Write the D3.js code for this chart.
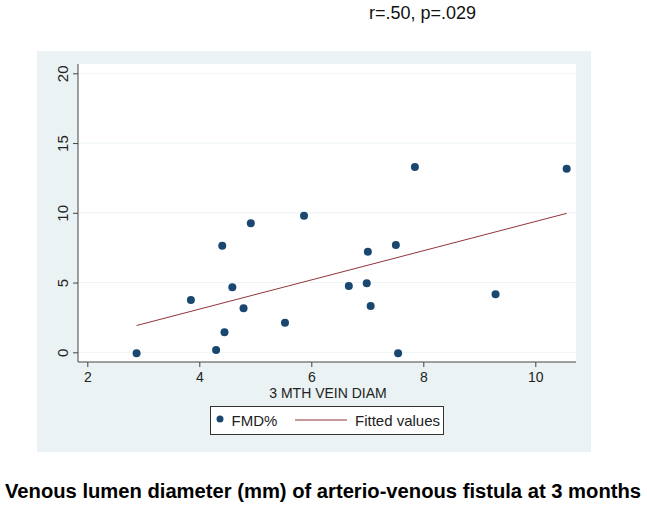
<!DOCTYPE html>
<html>
<head>
<meta charset="utf-8">
<script src="https://cdn.jsdelivr.net/npm/d3@7"></script>
<style>
  body { margin: 0; background: #fff; }
  text { font-family: "Liberation Sans", Arial, sans-serif; }
</style>
</head>
<body>
<div id="chart"></div>
<script>
// 3ヶ月時点の静脈径 (mm) と FMD%
const veinDiam = [2.88, 3.85, 4.30, 4.41, 4.45, 4.59, 4.79, 4.92, 5.53, 5.87,
  6.67, 6.99, 7.01, 7.06, 7.51, 7.55, 7.85, 9.29, 10.56];
const fmdPct = [-0.06, 3.75, 0.16, 7.64, 1.43, 4.66, 3.15, 9.25, 2.12, 9.79,
  4.75, 4.95, 7.21, 3.32, 7.69, -0.06, 13.28, 4.16, 13.16];
// 回帰直線の両端
const fitX = [2.88, 10.56];
const fitY = [1.92, 9.96];
const xTicks = [2, 4, 6, 8, 10];
const yTicks = [0, 5, 10, 15, 20];

const width = 647, height = 509;
const svg = d3.select("#chart").append("svg").attr("width", width).attr("height", height);

// 外側の背景
svg.append("rect").attr("x", 37).attr("y", 51).attr("width", 554).attr("height", 401).attr("fill", "#eaf2f3");
// プロット領域
svg.append("rect").attr("x", 78).attr("y", 64).attr("width", 498).attr("height", 298).attr("fill", "#fff");

let x = d3.scaleLinear().domain([2, 10]).range([87.3, 535.3]);
let y = d3.scaleLinear().domain([0, 20]).range([352.3, 73.3]);

// グリッド線
svg.append("g").selectAll("line").data(yTicks).enter().append("line")
  .attr("x1", 78).attr("x2", 576)
  .attr("y1", d => y(d)).attr("y2", d => y(d))
  .attr("stroke", "#eef4f5").attr("stroke-width", 1);

// y軸
let yAxis = svg.append("g").attr("transform", "translate(78,0)")
  .call(d3.axisLeft(y).tickValues(yTicks).tickSize(5).tickPadding(4));
yAxis.select(".domain").attr("d", "M0,64V362").attr("stroke", "#444");
yAxis.selectAll(".tick line").attr("stroke", "#444");
yAxis.selectAll(".tick text")
  .attr("transform", "rotate(-90)")
  .attr("x", 0).attr("y", -10).attr("dy", 0)
  .attr("text-anchor", "middle")
  .style("font-size", "15px").attr("fill", "#222");

// x軸
let xAxis = svg.append("g").attr("transform", "translate(0,362)")
  .call(d3.axisBottom(x).tickValues(xTicks).tickSize(5).tickPadding(5));
xAxis.select(".domain").attr("d", "M78,0H576").attr("stroke", "#444");
xAxis.selectAll(".tick line").attr("stroke", "#444");
xAxis.selectAll(".tick text").style("font-size", "14px").attr("fill", "#222");

svg.append("text").attr("x", 328).attr("y", 398).attr("text-anchor", "middle")
  .style("font-size", "14px").attr("fill", "#222").text("3 MTH VEIN DIAM");

// 回帰直線
svg.append("line")
  .attr("x1", x(fitX[0])).attr("y1", y(fitY[0]))
  .attr("x2", x(fitX[1])).attr("y2", y(fitY[1]))
  .attr("stroke", "#90353b").attr("stroke-width", 1);

// 散布点
svg.append("g").selectAll("circle").data(veinDiam).enter().append("circle")
  .attr("cx", d => x(d))
  .attr("cy", (d, i) => y(fmdPct[i]))
  .attr("r", 4)
  .attr("fill", "#1a476f");

// 凡例
let lg = svg.append("g");
lg.append("rect").attr("x", 210.5).attr("y", 406.5).attr("width", 233).attr("height", 28)
  .attr("fill", "#fff").attr("stroke", "#333").attr("stroke-width", 1);
lg.append("circle").attr("cx", 220).attr("cy", 419).attr("r", 3.5).attr("fill", "#1a476f");
lg.append("text").attr("x", 231.5).attr("y", 426).style("font-size", "15px").attr("fill", "#222").text("FMD%");
lg.append("line").attr("x1", 295).attr("x2", 347).attr("y1", 420).attr("y2", 420)
  .attr("stroke", "#90353b").attr("stroke-width", 1);
lg.append("text").attr("x", 355).attr("y", 426).style("font-size", "15px").attr("fill", "#222").text("Fitted values");

// 注記とタイトル
svg.append("text").attr("x", 369).attr("y", 19).style("font-size", "18px").attr("fill", "#111")
  .text("r=.50, p=.029");
svg.append("text").attr("x", 5).attr("y", 498)
  .attr("textLength", 636).attr("lengthAdjust", "spacingAndGlyphs")
  .style("font-size", "20px").style("font-weight", "bold").attr("fill", "#000")
  .text("Venous lumen diameter (mm) of arterio-venous fistula at 3 months");
</script>
</body>
</html>
